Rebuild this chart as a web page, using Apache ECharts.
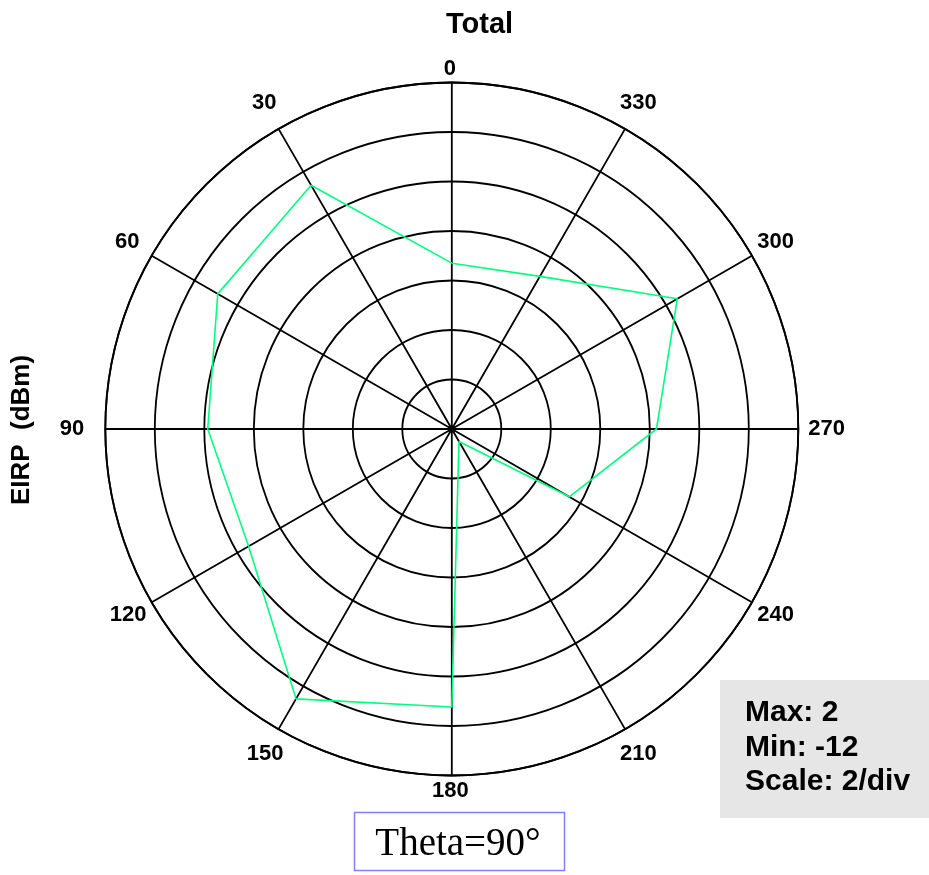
<!DOCTYPE html>
<html>
<head>
<meta charset="utf-8">
<script src="https://cdn.jsdelivr.net/npm/echarts@6/dist/echarts.min.js"></script>
<style>
html,body{margin:0;padding:0;background:#fff;}
#chart{width:929px;height:875px;}
</style>
</head>
<body>
<div id="chart"></div>
<script>
// ---- data ----
const chartTitle = 'Total';
const radiusName = 'EIRP  (dBm)';
const thetaCut = 90;
const rMin = -12;
const rMax = 2;
const rStep = 2;
const angleTicks = [0, 30, 60, 90, 120, 150, 180, 210, 240, 270, 300, 330];
const phiAngles = [0, 30, 60, 90, 120, 150, 180, 210, 240, 270, 300, 330];
const eirpValues = [-5.3, -0.63, -1.08, -2.14, -2.52, 0.59, -0.77, -11.42, -6.52, -3.73, -1.48, -4.88];

// ---- label fine placement (style only) ----
const labelPad = {
  0: [0, 4, 13, 0], 30: [0, 7, 24, 0], 60: [0, 21, 8, 0], 90: [0, 31, 0, 0],
  120: [7, 14, 0, 0], 150: [23, 0, 0, 0], 180: [14, 3, 0, 0], 210: [23, 0, 0, 0],
  240: [7, 0, 0, 14], 270: [0, 0, 0, 20], 300: [0, 0, 8, 14], 330: [0, 0, 24, 0]
};
const labelFont = {fontSize: 22, fontWeight: 'bold', fontFamily: 'Liberation Sans, Arial, sans-serif', color: '#000'};
const rich = {};
angleTicks.forEach(a => { rich['a' + a] = Object.assign({padding: labelPad[a]}, labelFont); });

const seriesData = phiAngles.map((a, i) => [eirpValues[i], a]);
seriesData.push([eirpValues[0], 360]);

const cx = 451.8, cy = 429, R = 346.5;
const chart = echarts.init(document.getElementById('chart'), null, {renderer: 'canvas'});
chart.setOption({
  animation: false,
  backgroundColor: '#fff',
  title: {
    text: chartTitle,
    left: 446, top: 10, padding: 0,
    textStyle: {fontSize: 29, fontWeight: 'bold', fontFamily: 'Liberation Sans, Arial, sans-serif', color: '#000'}
  },
  polar: {center: [cx, cy], radius: R},
  angleAxis: {
    type: 'value', min: 0, max: 360, interval: 30,
    startAngle: 90, clockwise: false,
    axisLine: {show: true, lineStyle: {color: '#000', width: 1.8}},
    axisTick: {show: false},
    splitLine: {show: true, lineStyle: {color: '#000', width: 1.8}},
    axisLabel: {
      show: true, margin: -10,
      formatter: v => (v >= 360 ? '' : '{a' + v + '|' + v + '}'),
      rich: rich,
      fontSize: 22, fontWeight: 'bold', fontFamily: 'Liberation Sans, Arial, sans-serif', color: '#000'
    }
  },
  radiusAxis: {
    type: 'value', min: rMin, max: rMax, interval: rStep,
    axisLine: {show: false}, axisTick: {show: false}, axisLabel: {show: false},
    splitLine: {show: true, lineStyle: {color: '#000', width: 1.8}}
  },
  series: [{
    type: 'line', coordinateSystem: 'polar',
    data: seriesData, showSymbol: false, symbol: 'none', smooth: false,
    lineStyle: {color: '#00ff80', width: 1.6}
  }],
  graphic: [
    {type: 'text', x: 21.5, y: 430, rotation: Math.PI / 2,
     style: {text: radiusName, font: 'bold 26px "Liberation Sans", Arial, sans-serif', fill: '#000', align: 'center', verticalAlign: 'middle'}},
    {type: 'rect', shape: {x: 720, y: 680, width: 209, height: 138}, style: {fill: '#e6e6e6'}},
    {type: 'text', x: 745, y: 713, style: {text: 'Max: ' + rMax, font: 'bold 30px "Liberation Sans", Arial, sans-serif', fill: '#000', align: 'left', verticalAlign: 'middle'}},
    {type: 'text', x: 745, y: 748, style: {text: 'Min: ' + rMin, font: 'bold 30px "Liberation Sans", Arial, sans-serif', fill: '#000', align: 'left', verticalAlign: 'middle'}},
    {type: 'text', x: 745, y: 781.5, style: {text: 'Scale: ' + rStep + '/div', font: 'bold 30px "Liberation Sans", Arial, sans-serif', fill: '#000', align: 'left', verticalAlign: 'middle'}},
    {type: 'rect', shape: {x: 354.5, y: 812.5, width: 210, height: 58}, style: {fill: '#fff', stroke: '#8080ff', lineWidth: 1.5}},
    {type: 'text', x: 458, y: 845, style: {text: 'Theta=' + thetaCut + '°', font: '39px "Liberation Serif", "Times New Roman", serif', fill: '#000', align: 'center', verticalAlign: 'middle'}}
  ]
});
</script>
</body>
</html>
